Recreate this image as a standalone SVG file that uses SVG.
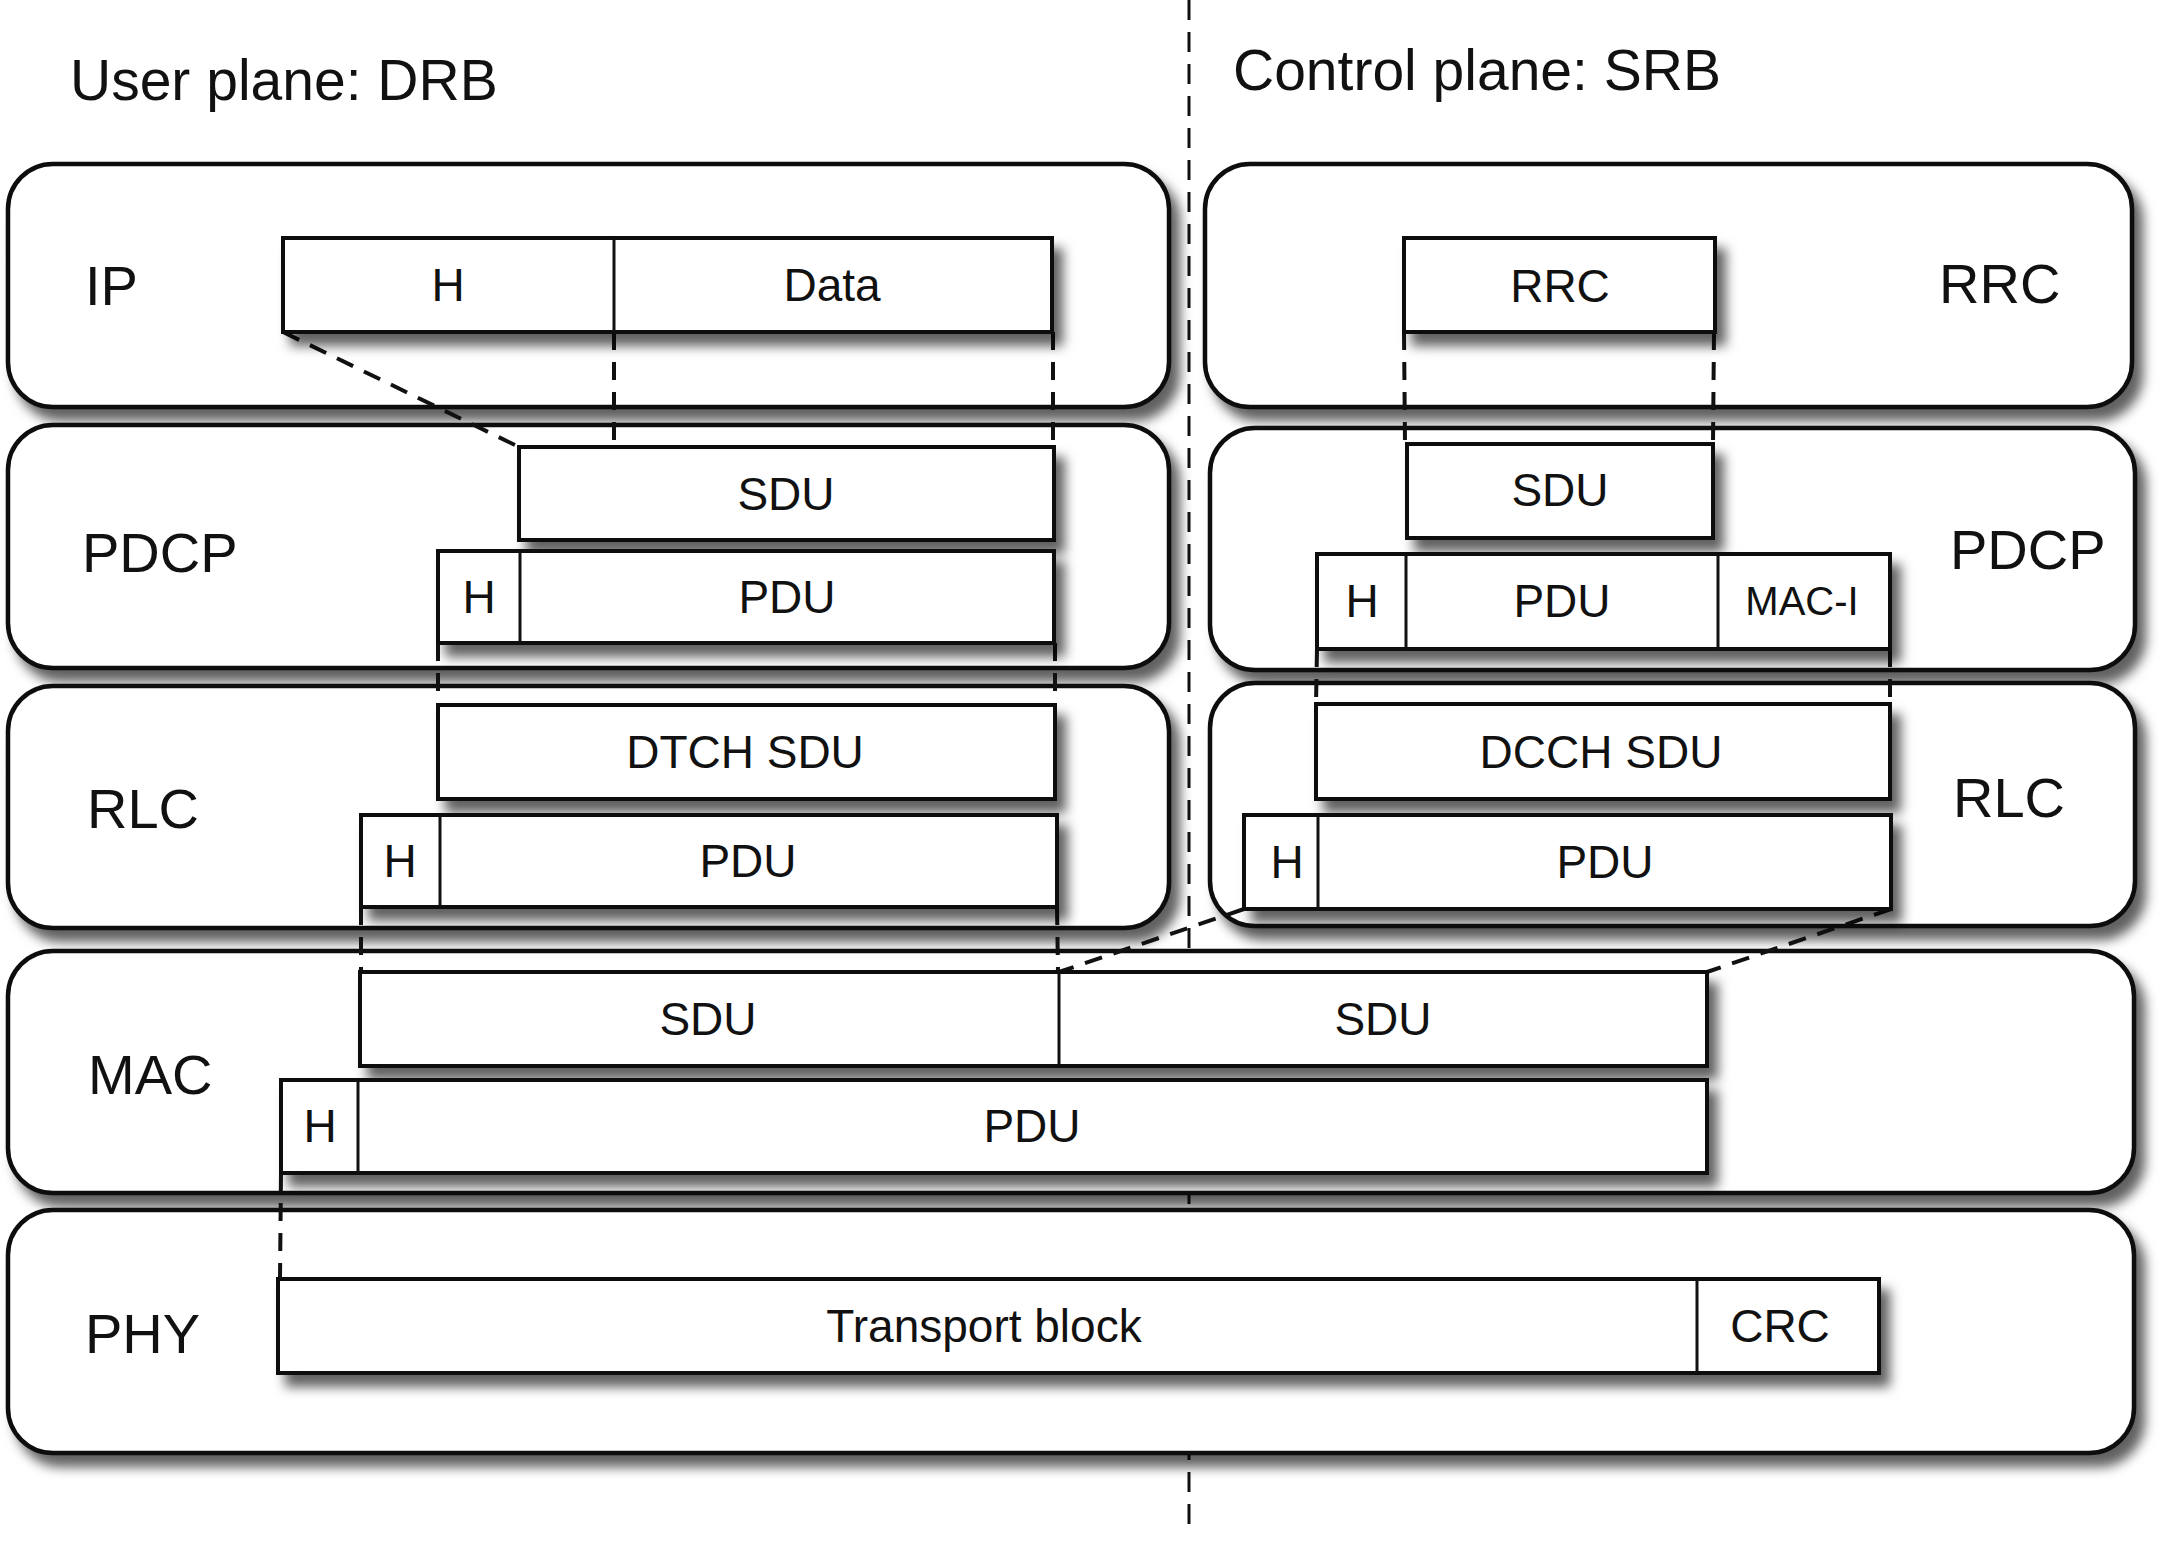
<svg xmlns="http://www.w3.org/2000/svg" width="2177" height="1541" viewBox="0 0 2177 1541">
<defs>
<filter id="sh" x="-10%" y="-20%" width="125%" height="170%">
<feDropShadow dx="9" dy="12" stdDeviation="6" flood-color="#000" flood-opacity="0.62"/>
</filter>
<style>
.layer{fill:#fff;stroke:#111;stroke-width:4.5;filter:url(#sh)}
.blk{fill:#fff;stroke:#111;stroke-width:4;filter:url(#sh)}
.div{stroke:#111;stroke-width:3;fill:none}
.con{stroke:#111;stroke-width:4;stroke-dasharray:18 12;fill:none}
.center{stroke:#111;stroke-width:3;stroke-dasharray:20 12;fill:none}
text{font-family:"Liberation Sans",Arial,sans-serif;fill:#111}
.lbl{font-size:56px}
.ttl{font-size:57px}
.t{font-size:46px;text-anchor:middle}
.ts{font-size:40px;text-anchor:middle}
</style>
</defs>
<rect width="2177" height="1541" fill="#fff"/>
<line class="center" x1="1189" y1="0" x2="1189" y2="1536"/>
<text class="ttl" x="70" y="100">User plane: DRB</text>
<text class="ttl" x="1233" y="90">Control plane: SRB</text>

<g id="layer-ip"><rect class="layer" x="8" y="164" width="1161" height="243" rx="45"/><text class="lbl" x="85" y="305">IP</text></g>
<g id="layer-pdcp-u"><rect class="layer" x="8" y="425" width="1161" height="243" rx="45"/><text class="lbl" x="82" y="572">PDCP</text></g>
<g id="layer-rlc-u"><rect class="layer" x="8" y="686" width="1161" height="242" rx="45"/><text class="lbl" x="87" y="828">RLC</text></g>
<g id="layer-rrc"><rect class="layer" x="1205" y="164" width="927" height="243" rx="45"/><text class="lbl" x="1939" y="303">RRC</text></g>
<g id="layer-pdcp-c"><rect class="layer" x="1210" y="428" width="925" height="242" rx="45"/><text class="lbl" x="1950" y="569">PDCP</text></g>
<g id="layer-rlc-c"><rect class="layer" x="1210" y="683" width="925" height="243" rx="45"/><text class="lbl" x="1953" y="817">RLC</text></g>
<g id="layer-mac"><rect class="layer" x="8" y="951" width="2126" height="242" rx="45"/><text class="lbl" x="88" y="1094">MAC</text></g>
<g id="layer-phy"><rect class="layer" x="8" y="1210" width="2126" height="243" rx="45"/><text class="lbl" x="85" y="1353">PHY</text></g>

<g id="connectors">
<line class="con" x1="283" y1="332" x2="519" y2="447"/>
<line class="con" x1="614" y1="332" x2="614" y2="447"/>
<line class="con" x1="1053" y1="332" x2="1053" y2="447"/>
<line class="con" x1="438" y1="643" x2="438" y2="705"/>
<line class="con" x1="1055" y1="643" x2="1055" y2="705"/>
<line class="con" x1="361" y1="907" x2="361" y2="972"/>
<line class="con" x1="1057" y1="907" x2="1058" y2="972"/>
<line class="con" x1="281" y1="1173" x2="280" y2="1279"/>
<line class="con" x1="1404" y1="332" x2="1405" y2="444"/>
<line class="con" x1="1714" y1="332" x2="1713" y2="444"/>
<line class="con" x1="1317" y1="649" x2="1316" y2="704"/>
<line class="con" x1="1890" y1="649" x2="1890" y2="704"/>
<line class="con" x1="1244" y1="909" x2="1059" y2="972"/>
<line class="con" x1="1891" y1="909" x2="1707" y2="972"/>
</g>

<g id="ip-packet"><rect class="blk" x="283" y="238" width="769" height="94"/><line class="div" x1="614" y1="238" x2="614" y2="332"/><text class="t" x="448" y="301">H</text><text class="t" x="832" y="301">Data</text></g>
<g id="pdcp-u-sdu"><rect class="blk" x="519" y="447" width="535" height="93"/><text class="t" x="786" y="510">SDU</text></g>
<g id="pdcp-u-pdu"><rect class="blk" x="438" y="551" width="616" height="92"/><line class="div" x1="520" y1="551" x2="520" y2="643"/><text class="t" x="479" y="613">H</text><text class="t" x="787" y="613">PDU</text></g>
<g id="rlc-u-sdu"><rect class="blk" x="438" y="705" width="617" height="94"/><text class="t" x="745" y="768">DTCH SDU</text></g>
<g id="rlc-u-pdu"><rect class="blk" x="361" y="815" width="696" height="92"/><line class="div" x1="440" y1="815" x2="440" y2="907"/><text class="t" x="400" y="877">H</text><text class="t" x="748" y="877">PDU</text></g>
<g id="rrc-msg"><rect class="blk" x="1404" y="238" width="311" height="94"/><text class="t" x="1560" y="302">RRC</text></g>
<g id="pdcp-c-sdu"><rect class="blk" x="1407" y="444" width="306" height="94"/><text class="t" x="1560" y="506">SDU</text></g>
<g id="pdcp-c-pdu"><rect class="blk" x="1317" y="554" width="573" height="95"/><line class="div" x1="1406" y1="554" x2="1406" y2="649"/><line class="div" x1="1718" y1="554" x2="1718" y2="649"/><text class="t" x="1362" y="617">H</text><text class="t" x="1562" y="617">PDU</text><text class="ts" x="1802" y="615">MAC-I</text></g>
<g id="rlc-c-sdu"><rect class="blk" x="1316" y="704" width="574" height="95"/><text class="t" x="1601" y="768">DCCH SDU</text></g>
<g id="rlc-c-pdu"><rect class="blk" x="1244" y="815" width="647" height="94"/><line class="div" x1="1318" y1="815" x2="1318" y2="909"/><text class="t" x="1287" y="878">H</text><text class="t" x="1605" y="878">PDU</text></g>
<g id="mac-sdu"><rect class="blk" x="360" y="972" width="1347" height="94"/><line class="div" x1="1059" y1="972" x2="1059" y2="1066"/><text class="t" x="708" y="1035">SDU</text><text class="t" x="1383" y="1035">SDU</text></g>
<g id="mac-pdu"><rect class="blk" x="281" y="1080" width="1426" height="93"/><line class="div" x1="358" y1="1080" x2="358" y2="1173"/><text class="t" x="320" y="1142">H</text><text class="t" x="1032" y="1142">PDU</text></g>
<g id="transport-block"><rect class="blk" x="278" y="1279" width="1601" height="94"/><line class="div" x1="1697" y1="1279" x2="1697" y2="1373"/><text class="t" x="984" y="1342">Transport block</text><text class="t" x="1780" y="1342">CRC</text></g>
</svg>
